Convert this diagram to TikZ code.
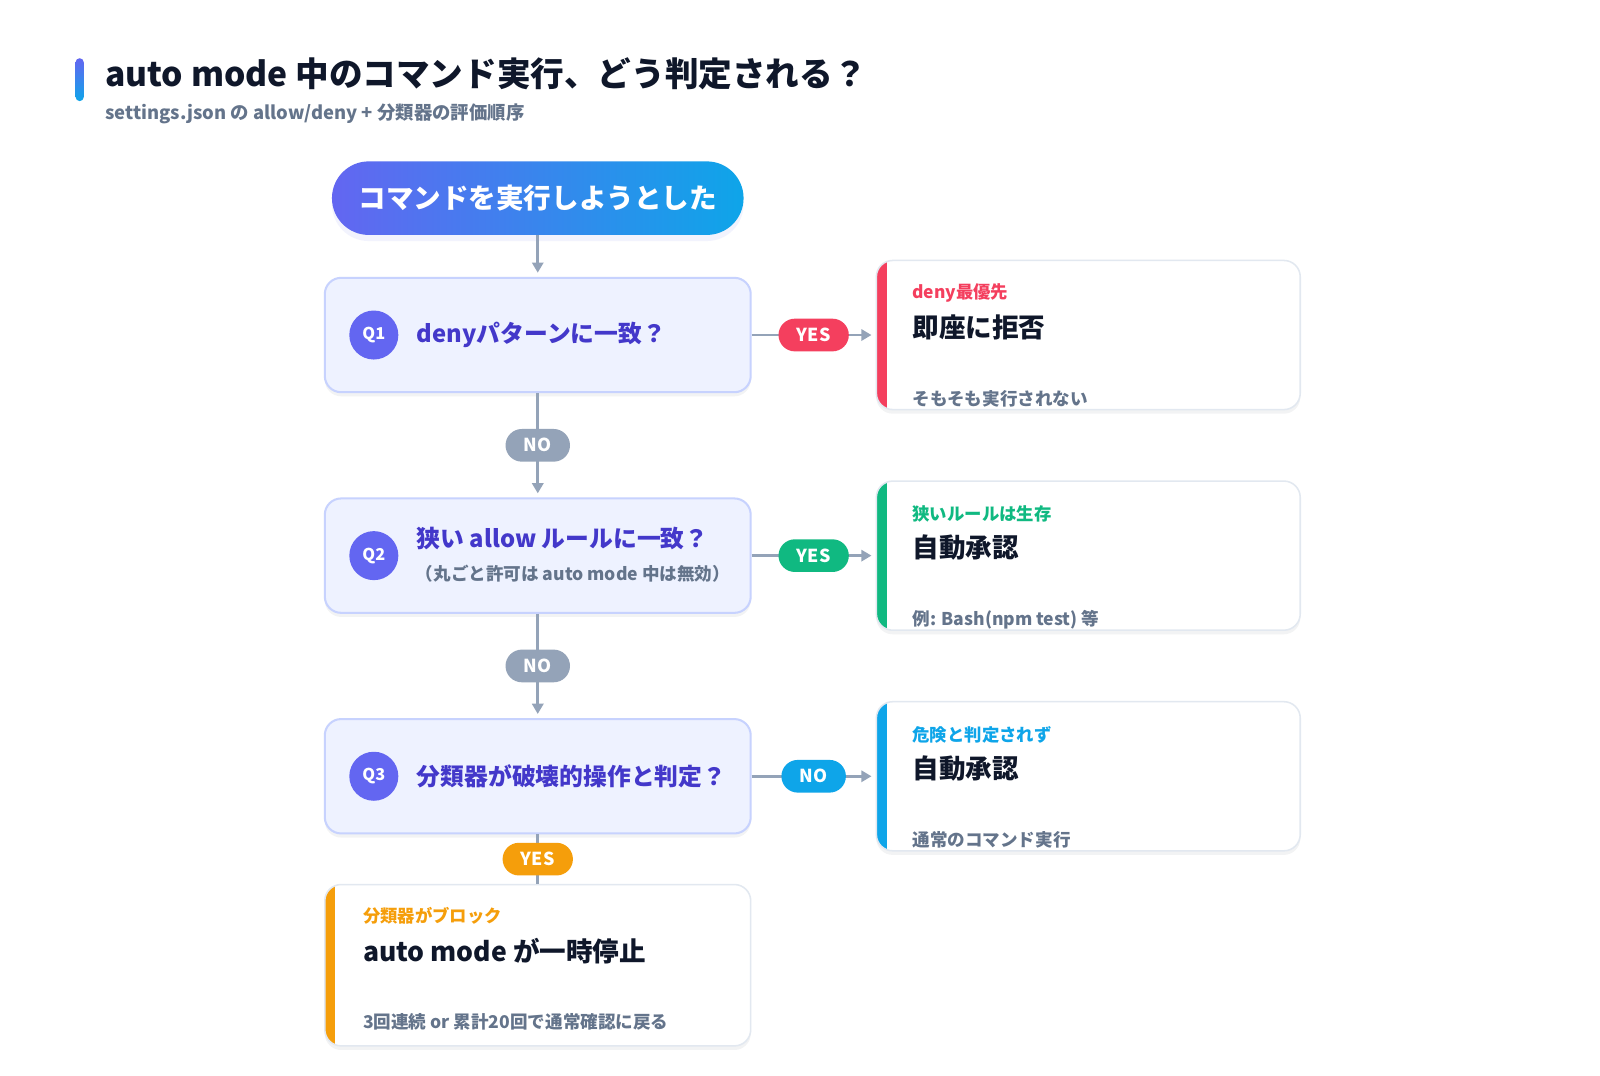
\documentclass[tikz,border=0pt]{standalone}
\usepackage{fontspec}
\setmainfont{Noto Sans CJK JP}
\usetikzlibrary{calc,positioning,arrows.meta,shadows}

\definecolor{ink}{HTML}{0F172A}
\definecolor{slate}{HTML}{64748B}
\definecolor{wire}{HTML}{94A3B8}
\definecolor{indigo}{HTML}{6366F1}
\definecolor{sky}{HTML}{0EA5E9}
\definecolor{qfill}{HTML}{EEF2FF}
\definecolor{qedge}{HTML}{C7D2FE}
\definecolor{qink}{HTML}{4338CA}
\definecolor{rose}{HTML}{F43F5E}
\definecolor{emerald}{HTML}{10B981}
\definecolor{amber}{HTML}{F59E0B}
\definecolor{rim}{HTML}{E2E8F0}

\tikzset{result/.style={rectangle, rounded corners=16pt, draw=rim, line width=1.5pt,
    fill=white, minimum width=415pt, minimum height=146pt,
    drop shadow={shadow xshift=0pt, shadow yshift=-4pt, opacity=0.05, fill=ink},
    path picture={\fill[#1, sharp corners] (path picture bounding box.north west)
      rectangle ([xshift=10pt]path picture bounding box.south west);}},
  badge/.style={rectangle, rounded corners=16pt, fill=#1, minimum height=32pt,
    inner xsep=18pt, inner ysep=0pt, text=white,
    font=\fontsize{17.5pt}{20pt}\selectfont\bfseries}}
\tikzstyle{ptr}      = [draw=wire, line width=2.5pt, -{Triangle[length=10pt,width=11pt]},
                        shorten >=4pt]
\tikzstyle{link}     = [draw=wire, line width=2.5pt]
\tikzstyle{start}    = [rectangle, rounded corners=36pt, minimum width=403pt,
                        minimum height=72pt, left color=indigo, right color=sky,
                        text=white, font=\fontsize{27pt}{30pt}\selectfont\bfseries,
                        drop shadow={shadow xshift=0pt, shadow yshift=-6pt,
                        opacity=0.08, fill=indigo}]
\tikzstyle{question} = [rectangle, rounded corners=16pt, draw=qedge, line width=2pt,
                        fill=qfill, minimum width=417pt, minimum height=112pt,
                        drop shadow={shadow xshift=0pt, shadow yshift=-4pt,
                        opacity=0.05, fill=ink}]
\tikzstyle{qmark}    = [circle, fill=indigo, minimum size=48pt, inner sep=0pt,
                        text=white, font=\fontsize{16pt}{18pt}\selectfont\bfseries]
\tikzstyle{qtext}    = [anchor=west, inner sep=0pt, text=qink,
                        font=\fontsize{23.3pt}{28pt}\selectfont\bfseries]
\tikzstyle{tag}      = [anchor=west, inner sep=0pt,
                        font=\fontsize{17pt}{20pt}\selectfont\bfseries]
\tikzstyle{verdict}  = [anchor=west, inner sep=0pt, text=ink,
                        font=\fontsize{26pt}{30pt}\selectfont\bfseries]
\tikzstyle{remark}   = [anchor=west, inner sep=0pt, text=slate,
                        font=\fontsize{17.2pt}{20pt}\selectfont\bfseries]

\begin{document}
\begin{tikzpicture}[x=1pt, y=-1pt]
	\fill[white] (0,0) rectangle (1566.5,1052.5);

	% title
	\shade[top color=indigo, bottom color=sky, rounded corners=4pt] (74,57) rectangle (82,99);
	\node[anchor=west, inner sep=0pt, text=ink, font=\fontsize{32.9pt}{38pt}\selectfont\bfseries]
		(title) at (103,72) {auto mode 中のコマンド実行、どう判定される？};
	\node[anchor=west, inner sep=0pt, text=slate, font=\fontsize{18pt}{20pt}\selectfont\bfseries]
		(subtitle) at (103,111) {settings.json の allow/deny + 分類器の評価順序};

	% start
	\node[start] (start) at (526.5,194) {コマンドを実行しようとした};

	% questions
	\node[question] (q1) at (526.5,328) {};
	\node[qmark] (m1) at ($(q1.west)+(49,0)$) {Q1};
	\node[qtext] (t1) at ($(q1.west)+(91,0)$) {denyパターンに一致？};

	\node[question] (q2) at (526.5,544) {};
	\node[qmark] (m2) at ($(q2.west)+(49,0)$) {Q2};
	\node[qtext] (t2) at ($(q2.west)+(91,-17)$) {狭い allow ルールに一致？};
	\node[remark] (t2b) at ($(q2.west)+(90,18)$) {（丸ごと許可は auto mode 中は無効）};

	\node[question] (q3) at (526.5,760) {};
	\node[qmark] (m3) at ($(q3.west)+(49,0)$) {Q3};
	\node[qtext] (t3) at ($(q3.west)+(91,0)$) {分類器が破壊的操作と判定？};

	% outcomes
	\node[result=rose] (r1) at (1065.5,328) {};
	\node[tag, text=rose] (r1a) at ($(r1.north west)+(36,33)$) {deny最優先};
	\node[verdict] (r1b) at ($(r1.north west)+(36,66)$) {即座に拒否};
	\node[remark] (r1c) at ($(r1.north west)+(36,136)$) {そもそも実行されない};

	\node[result=emerald] (r2) at (1065.5,544) {};
	\node[tag, text=emerald] (r2a) at ($(r2.north west)+(36,33)$) {狭いルールは生存};
	\node[verdict] (r2b) at ($(r2.north west)+(36,66)$) {自動承認};
	\node[remark] (r2c) at ($(r2.north west)+(36,136)$) {例: Bash(npm test) 等};

	\node[result=sky] (r3) at (1065.5,760) {};
	\node[tag, text=sky] (r3a) at ($(r3.north west)+(36,33)$) {危険と判定されず};
	\node[verdict] (r3b) at ($(r3.north west)+(36,66)$) {自動承認};
	\node[remark] (r3c) at ($(r3.north west)+(36,136)$) {通常のコマンド実行};

	\node[result=amber, minimum width=417pt, minimum height=158pt] (r4) at (526.5,945) {};
	\node[tag, text=amber] (r4a) at ($(r4.north west)+(38,31)$) {分類器がブロック};
	\node[verdict] (r4b) at ($(r4.north west)+(38,66)$) {auto mode が一時停止};
	\node[remark] (r4c) at ($(r4.north west)+(38,135)$) {3回連続 or 累計20回で通常確認に戻る};

	% connectors
	\draw[ptr] (start) -- (q1);
	\draw[ptr] (q1) -- node[badge=rose] (y1) {YES} (r1);
	\draw[ptr] (q1) -- node[badge=wire] (n1) {NO} (q2);
	\draw[ptr] (q2) -- node[badge=emerald] (y2) {YES} (r2);
	\draw[ptr] (q2) -- node[badge=wire] (n2) {NO} (q3);
	\draw[ptr] (q3) -- node[badge=sky] (n3) {NO} (r3);
	\draw[link] (q3) -- node[badge=amber] (y3) {YES} (r4);

	\pgfresetboundingbox
	\useasboundingbox (0,0) rectangle (1566.5,1052.5);
\end{tikzpicture}
\end{document}
